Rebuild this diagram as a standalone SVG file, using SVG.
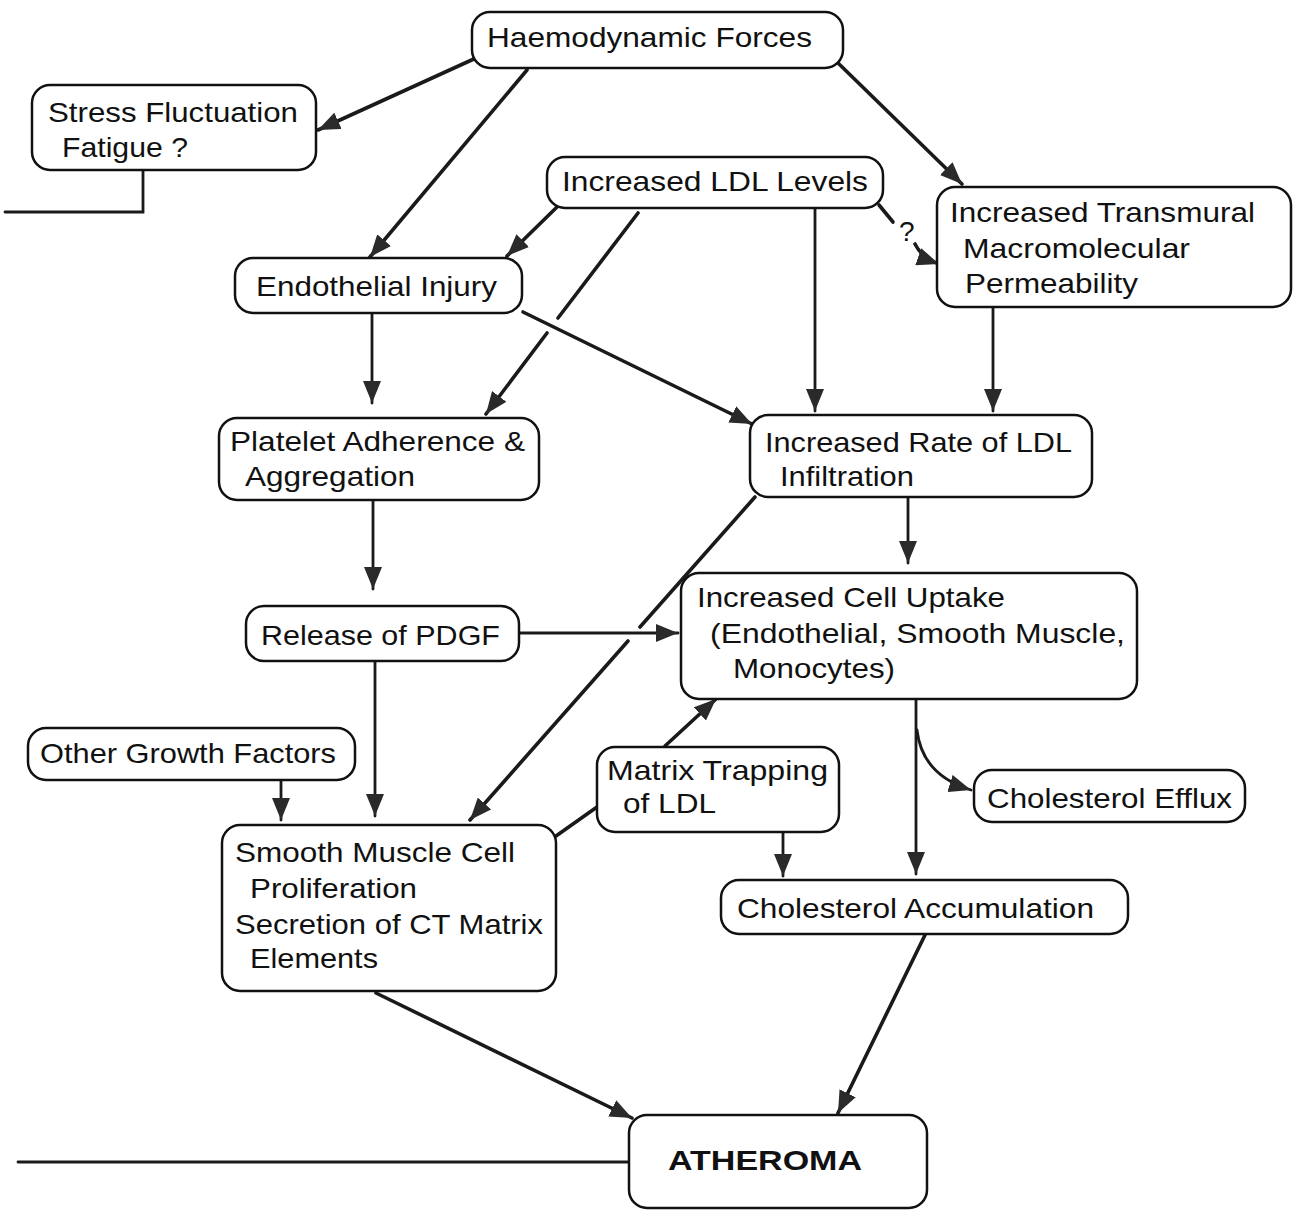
<svg xmlns="http://www.w3.org/2000/svg" width="1293" height="1211" viewBox="0 0 1293 1211">
<style>
.box{fill:#fff;stroke:#111;stroke-width:2.5}
.t{font-family:"Liberation Sans",Arial,sans-serif;font-size:28px;fill:#111}
.b{font-weight:bold}
.c{fill:none;stroke:#1a1a1a;stroke-width:3.6;stroke-linecap:round}
.v{stroke-width:2.8}
</style>
<defs>
<marker id="ah" markerUnits="userSpaceOnUse" markerWidth="22" markerHeight="18" refX="22" refY="9" orient="auto">
<path d="M0,0 L22,9 L0,18 z" fill="#2a2a2a"/>
</marker>
</defs>
<rect width="1293" height="1211" fill="#fff"/>
<g id="connectors">
<line class="c" x1="476" y1="58" x2="318" y2="130" marker-end="url(#ah)"/>
<line class="c" x1="527" y1="70" x2="370" y2="257" marker-end="url(#ah)"/>
<line class="c" x1="837" y1="62" x2="962" y2="184" marker-end="url(#ah)"/>
<path class="c v" d="M143,170 V212 H5"/>
<line class="c" x1="557" y1="207" x2="507" y2="256" marker-end="url(#ah)"/>
<line class="c" x1="638" y1="213" x2="558" y2="318"/>
<line class="c" x1="547" y1="333" x2="486" y2="414" marker-end="url(#ah)"/>
<line class="c v" x1="815" y1="208" x2="815" y2="411" marker-end="url(#ah)"/>
<line class="c" x1="879" y1="205" x2="893" y2="222"/>
<path class="c" d="M915,244 Q922,258 939,264" marker-end="url(#ah)"/>
<line class="c" x1="523" y1="312" x2="752" y2="424" marker-end="url(#ah)"/>
<line class="c v" x1="372" y1="313" x2="372" y2="403" marker-end="url(#ah)"/>
<line class="c v" x1="993" y1="307" x2="993" y2="411" marker-end="url(#ah)"/>
<line class="c v" x1="373" y1="500" x2="373" y2="589" marker-end="url(#ah)"/>
<line class="c v" x1="908" y1="497" x2="908" y2="563" marker-end="url(#ah)"/>
<line class="c v" x1="519" y1="633" x2="678" y2="633" marker-end="url(#ah)"/>
<line class="c" x1="755" y1="497" x2="640" y2="627"/>
<line class="c" x1="628" y1="641" x2="470" y2="820" marker-end="url(#ah)"/>
<line class="c v" x1="375" y1="661" x2="375" y2="816" marker-end="url(#ah)"/>
<line class="c v" x1="281" y1="780" x2="281" y2="820" marker-end="url(#ah)"/>
<line class="c" x1="665" y1="746" x2="716" y2="699" marker-end="url(#ah)"/>
<line class="c" x1="597" y1="807" x2="556" y2="836"/>
<line class="c v" x1="783" y1="832" x2="783" y2="876" marker-end="url(#ah)"/>
<line class="c v" x1="916" y1="699" x2="916" y2="874" marker-end="url(#ah)"/>
<path class="c v" d="M917,730 Q922,775 971,790" marker-end="url(#ah)"/>
<line class="c" x1="376" y1="993" x2="632" y2="1118" marker-end="url(#ah)"/>
<line class="c" x1="925" y1="935" x2="838" y2="1113" marker-end="url(#ah)"/>
<path class="c v" d="M18,1162 H629"/>
<text class="t" x="899" y="241" font-size="28">?</text>
</g>
<g id="n-haemodynamic"><rect class="box" x="472" y="12" width="371" height="56" rx="18"/><text class="t" x="487" y="47" textLength="325" lengthAdjust="spacingAndGlyphs">Haemodynamic Forces</text></g>
<g id="n-stress"><rect class="box" x="32" y="85" width="284" height="85" rx="18"/><text class="t" x="48" y="122" textLength="250" lengthAdjust="spacingAndGlyphs">Stress Fluctuation</text><text class="t" x="62" y="157" textLength="126" lengthAdjust="spacingAndGlyphs">Fatigue ?</text></g>
<g id="n-ldl-levels"><rect class="box" x="547" y="157" width="336" height="51" rx="18"/><text class="t" x="562" y="191" textLength="306" lengthAdjust="spacingAndGlyphs">Increased LDL Levels</text></g>
<g id="n-endothelial"><rect class="box" x="235" y="258" width="287" height="55" rx="18"/><text class="t" x="256" y="296" textLength="241" lengthAdjust="spacingAndGlyphs">Endothelial Injury</text></g>
<g id="n-transmural"><rect class="box" x="937" y="187" width="354" height="120" rx="18"/><text class="t" x="950" y="222" textLength="305" lengthAdjust="spacingAndGlyphs">Increased Transmural</text><text class="t" x="963" y="258" textLength="227" lengthAdjust="spacingAndGlyphs">Macromolecular</text><text class="t" x="965" y="293" textLength="173" lengthAdjust="spacingAndGlyphs">Permeability</text></g>
<g id="n-platelet"><rect class="box" x="219" y="418" width="320" height="82" rx="18"/><text class="t" x="230" y="451" textLength="295" lengthAdjust="spacingAndGlyphs">Platelet Adherence &amp;</text><text class="t" x="245" y="486" textLength="170" lengthAdjust="spacingAndGlyphs">Aggregation</text></g>
<g id="n-infiltration"><rect class="box" x="750" y="415" width="342" height="82" rx="18"/><text class="t" x="765" y="452" textLength="307" lengthAdjust="spacingAndGlyphs">Increased Rate of LDL</text><text class="t" x="780" y="486" textLength="134" lengthAdjust="spacingAndGlyphs">Infiltration</text></g>
<g id="n-pdgf"><rect class="box" x="246" y="606" width="273" height="55" rx="18"/><text class="t" x="261" y="645" textLength="239" lengthAdjust="spacingAndGlyphs">Release of PDGF</text></g>
<g id="n-uptake"><rect class="box" x="681" y="573" width="456" height="126" rx="18"/><text class="t" x="697" y="607" textLength="308" lengthAdjust="spacingAndGlyphs">Increased Cell Uptake</text><text class="t" x="710" y="643" textLength="415" lengthAdjust="spacingAndGlyphs">(Endothelial, Smooth Muscle,</text><text class="t" x="733" y="678" textLength="162" lengthAdjust="spacingAndGlyphs">Monocytes)</text></g>
<g id="n-other-growth"><rect class="box" x="28" y="728" width="327" height="52" rx="18"/><text class="t" x="40" y="763" textLength="296" lengthAdjust="spacingAndGlyphs">Other Growth Factors</text></g>
<g id="n-matrix"><rect class="box" x="597" y="747" width="242" height="85" rx="18"/><text class="t" x="607" y="780" textLength="221" lengthAdjust="spacingAndGlyphs">Matrix Trapping</text><text class="t" x="623" y="813" textLength="93" lengthAdjust="spacingAndGlyphs">of LDL</text></g>
<g id="n-efflux"><rect class="box" x="974" y="770" width="271" height="52" rx="18"/><text class="t" x="987" y="808" textLength="245" lengthAdjust="spacingAndGlyphs">Cholesterol Efflux</text></g>
<g id="n-smooth-muscle"><rect class="box" x="222" y="825" width="334" height="166" rx="18"/><text class="t" x="235" y="862" textLength="280" lengthAdjust="spacingAndGlyphs">Smooth Muscle Cell</text><text class="t" x="250" y="898" textLength="167" lengthAdjust="spacingAndGlyphs">Proliferation</text><text class="t" x="235" y="934" textLength="308" lengthAdjust="spacingAndGlyphs">Secretion of CT Matrix</text><text class="t" x="250" y="968" textLength="128" lengthAdjust="spacingAndGlyphs">Elements</text></g>
<g id="n-accumulation"><rect class="box" x="721" y="880" width="407" height="54" rx="18"/><text class="t" x="737" y="918" textLength="357" lengthAdjust="spacingAndGlyphs">Cholesterol Accumulation</text></g>
<g id="n-atheroma"><rect class="box" x="629" y="1115" width="298" height="93" rx="18"/><text class="t b" x="668" y="1170" textLength="194" lengthAdjust="spacingAndGlyphs">ATHEROMA</text></g>
</svg>
